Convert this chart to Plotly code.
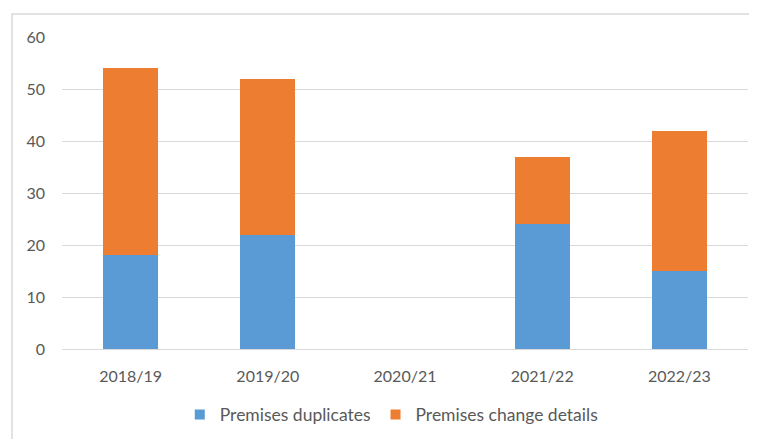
import plotly.graph_objects as go

categories = ["2018/19", "2019/20", "2020/21", "2021/22", "2022/23"]
duplicates = [18, 22, None, 24, 15]
change_details = [36, 30, None, 13, 27]

blue = "#5b9bd5"
orange = "#ed7d31"

fig = go.Figure()
fig.add_trace(go.Bar(x=categories, y=duplicates, name="Premises duplicates",
                     marker=dict(color=blue, line=dict(width=0)), showlegend=False))
fig.add_trace(go.Bar(x=categories, y=change_details, name="Premises change details",
                     marker=dict(color=orange, line=dict(width=0)), showlegend=False))
# legend entries with square swatches
fig.add_trace(go.Scatter(x=[None], y=[None], mode="markers", name="Premises duplicates",
                         marker=dict(symbol="square", size=10, color=blue)))
fig.add_trace(go.Scatter(x=[None], y=[None], mode="markers", name="Premises change details",
                         marker=dict(symbol="square", size=10, color=orange)))

fig.update_layout(
    barmode="stack",
    bargap=0.6,
    width=757, height=439,
    margin=dict(l=54, r=17, t=29, b=98),
    paper_bgcolor="white", plot_bgcolor="white",
    font=dict(family="Lato, Carlito, sans-serif", size=16, color="#595959"),
    showlegend=True,
    legend=dict(orientation="h", x=0.48, xanchor="center", y=-0.21, yanchor="middle",
                font=dict(size=17.5, color="#595959"), itemwidth=30, traceorder="normal"),
    xaxis=dict(showgrid=False, showline=False, ticks="", tickfont=dict(size=16),
               ticklabelstandoff=16),
    yaxis=dict(range=[0, 60], dtick=10, showgrid=True, gridcolor="#d9d9d9", gridwidth=1,
               zeroline=True, zerolinecolor="#d9d9d9", zerolinewidth=1,
               showline=False, ticks="", ticklabelstandoff=16, tickfont=dict(size=16)),
    shapes=[dict(type="rect", xref="paper", yref="paper",
                 x0=-0.0729, x1=1.2, y0=-0.5, y1=1.0737,
                 line=dict(color="#d9d9d9", width=1.5), layer="below")],
)

fig.write_html("out.html")
